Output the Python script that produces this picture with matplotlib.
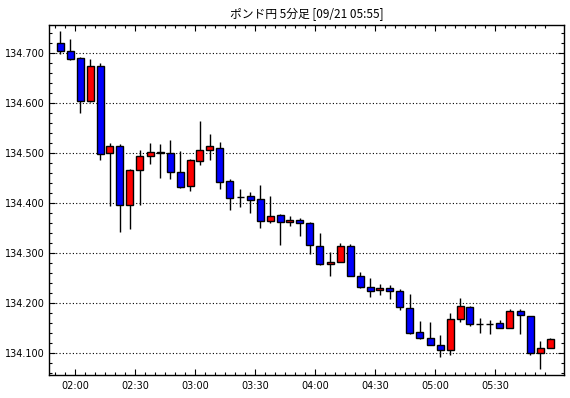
import matplotlib
matplotlib.use("Agg")
import matplotlib.pyplot as plt
import matplotlib.dates as mdates
import matplotlib.ticker as mticker
import pandas as pd
import numpy as np

plt.rcParams['font.family'] = ['DejaVu Sans']

title = "ポンド円 5分足 [09/21 05:55]"
start_time = "2023-09-21 01:50"
n_candles = 50

opens = [134.721, 134.705, 134.691, 134.605, 134.675, 134.501, 134.515, 134.397, 134.467, 134.495,
         134.500, 134.501, 134.463, 134.435, 134.485, 134.507, 134.511, 134.443, 134.413, 134.413,
         134.407, 134.365, 134.375, 134.363, 134.367, 134.361, 134.315, 134.279, 134.283, 134.315,
         134.255, 134.233, 134.227, 134.231, 134.225, 134.191, 134.143, 134.131, 134.117, 134.107,
         134.169, 134.193, 134.159, 134.159, 134.161, 134.151, 134.185, 134.175, 134.101, 134.111]
highs = [134.744, 134.729, 134.693, 134.689, 134.681, 134.521, 134.519, 134.469, 134.507, 134.521,
         134.518, 134.526, 134.504, 134.488, 134.564, 134.538, 134.522, 134.449, 134.429, 134.423,
         134.436, 134.414, 134.379, 134.375, 134.371, 134.363, 134.341, 134.303, 134.321, 134.319,
         134.263, 134.251, 134.239, 134.237, 134.229, 134.219, 134.165, 134.163, 134.137, 134.181,
         134.211, 134.195, 134.171, 134.167, 134.167, 134.189, 134.189, 134.175, 134.125, 134.131]
lows = [134.699, 134.687, 134.581, 134.603, 134.487, 134.395, 134.343, 134.349, 134.397, 134.479,
        134.451, 134.449, 134.431, 134.425, 134.477, 134.487, 134.429, 134.387, 134.393, 134.381,
        134.351, 134.361, 134.317, 134.355, 134.335, 134.299, 134.277, 134.255, 134.283, 134.255,
        134.231, 134.213, 134.217, 134.209, 134.187, 134.139, 134.129, 134.117, 134.093, 134.097,
        134.163, 134.155, 134.141, 134.139, 134.151, 134.151, 134.139, 134.097, 134.069, 134.111]
closes = [134.705, 134.689, 134.605, 134.675, 134.499, 134.515, 134.397, 134.467, 134.495, 134.501,
          134.501, 134.463, 134.433, 134.485, 134.507, 134.513, 134.443, 134.411, 134.413, 134.407,
          134.365, 134.375, 134.363, 134.367, 134.361, 134.317, 134.279, 134.283, 134.315, 134.255,
          134.233, 134.225, 134.231, 134.225, 134.193, 134.141, 134.131, 134.117, 134.107, 134.169,
          134.193, 134.159, 134.159, 134.159, 134.151, 134.185, 134.177, 134.101, 134.111, 134.129]

y_ticks = [134.100, 134.200, 134.300, 134.400, 134.500, 134.600, 134.700]

times = pd.date_range(start_time, periods=n_candles, freq="5min")
centers = mdates.date2num(times + pd.Timedelta(minutes=2.5))
starts = mdates.date2num(times)
major_x = [mdates.date2num(t) for t in times if t.minute in (0, 30)]
major_lbl = [t.strftime("%H:%M") for t in times if t.minute in (0, 30)]
day_min = 1.0 / (24 * 60)

W, H = 570, 398
fig = plt.figure(figsize=(W / 100, H / 100), dpi=100)
L, R, T, B = 49, 564, 25, 375
ax = fig.add_axes([L / W, (H - B) / H, (R - L) / W, (B - T) / H])

o = np.array(opens); c = np.array(closes)
hi = np.array(highs); lo = np.array(lows)
colors = np.where(c > o, "#ff0000", np.where(c < o, "#0000ff", "#000000"))

ax.vlines(centers, lo, hi, color="black", linewidth=1.0, zorder=2)
bottoms = np.minimum(o, c)
heights = np.abs(c - o)
ax.bar(centers, heights, bottom=bottoms, width=3.5 * day_min, color=colors,
       edgecolor="black", linewidth=1.0, zorder=3)

x0 = mdates.date2num(pd.Timestamp("2023-09-21 01:47"))
x1 = mdates.date2num(pd.Timestamp("2023-09-21 06:04:30"))
ax.set_xlim(x0, x1)
ax.set_ylim(134.056, 134.756)

ax.set_xticks(major_x)
ax.set_xticklabels(major_lbl)
ax.set_xticks(starts, minor=True)
ax.set_yticks(y_ticks)
ax.set_yticklabels([f"{v:.3f}" for v in y_ticks])
ax.yaxis.set_minor_locator(mticker.MultipleLocator(0.02))

ax.tick_params(which="both", direction="in", top=True, right=True, colors="black",
               labelsize=7, width=0.8)
ax.tick_params(axis="y", pad=3)
ax.tick_params(axis="x", pad=4)
ax.tick_params(which="major", length=4.5)
ax.tick_params(which="minor", length=2.5)

ax.grid(axis="y", which="major", color="black", linestyle=(0, (1, 2)), linewidth=0.8)
ax.set_axisbelow(True)
for s in ax.spines.values():
    s.set_linewidth(1.0)
    s.set_color("black")

fig.text(((L + R) / 2) / W, 1 - 14.5 / H, title, ha="center", va="center", fontsize=8.5,
         family=["Noto Sans CJK JP", "DejaVu Sans"])

fig.savefig("out.png", dpi=100, facecolor="white")
